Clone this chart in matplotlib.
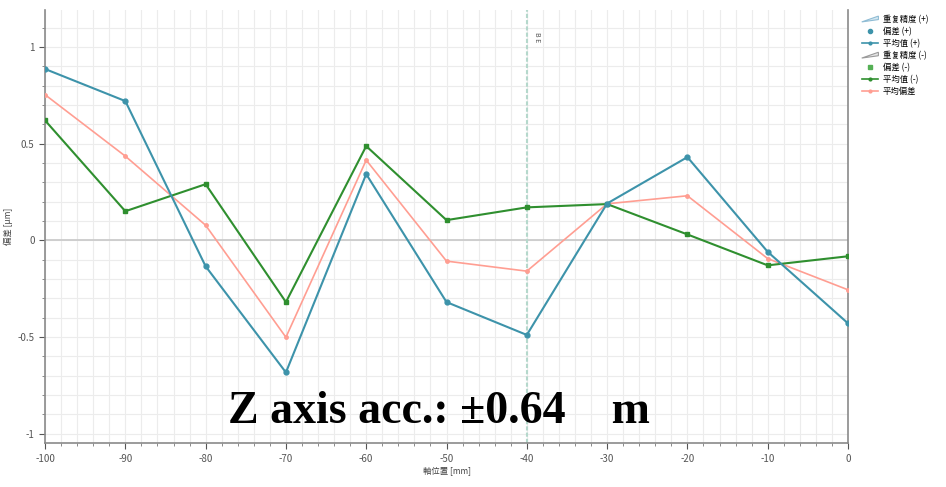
import matplotlib.pyplot as plt
from matplotlib.lines import Line2D
from matplotlib.patches import Polygon
from matplotlib.legend_handler import HandlerPatch
from matplotlib.ticker import MultipleLocator

plt.rcParams['font.family'] = ['Noto Sans CJK JP', 'DejaVu Sans']
plt.rcParams['axes.unicode_minus'] = False

# data
positions = [-100, -90, -80, -70, -60, -50, -40, -30, -20, -10, 0]
dev_plus = [0.886, 0.72, -0.135, -0.684, 0.342, -0.32, -0.49, 0.19, 0.43, -0.06, -0.43]
dev_minus = [0.62, 0.15, 0.29, -0.32, 0.487, 0.104, 0.17, 0.187, 0.03, -0.13, -0.083]
mean_dev = [(a + b) / 2 for a, b in zip(dev_plus, dev_minus)]
xticks = [-100, -90, -80, -70, -60, -50, -40, -30, -20, -10, 0]
yticks = [-1, -0.5, 0, 0.5, 1]
ytick_labels = ['-1', '-0.5', '0', '0.5', '1']
legend_labels = ['重复精度 (+)', '偏差 (+)', '平均值 (+)', '重复精度 (-)', '偏差 (-)', '平均值 (-)', '平均偏差']

c_plus = '#3d93aa'
c_minus = '#2f8f2f'
c_mean = '#ff9e92'

fig = plt.figure(figsize=(9.46, 4.87), dpi=100)
ax = fig.add_axes([0.0476, 0.090, 0.8488, 0.889])

ax.plot(positions, mean_dev, color=c_mean, lw=1.2, marker='o', ms=2.5, zorder=3)
ax.plot(positions, dev_minus, color=c_minus, lw=1.5, marker='s', ms=3.5, zorder=4)
ax.plot(positions, dev_plus, color=c_plus, lw=1.5, marker='o', ms=3.5, zorder=5)

ax.set_xlim(-100, 0)
ax.set_ylim(-1.05, 1.19)
ax.set_xticks(xticks)
ax.set_yticks(yticks)
ax.set_yticklabels(ytick_labels)
ax.xaxis.set_minor_locator(MultipleLocator(2))
ax.yaxis.set_minor_locator(MultipleLocator(0.1))
ax.grid(which='both', color='#ececec', lw=0.8)
ax.set_axisbelow(True)
ax.axhline(0, color='#c8c8c8', lw=1.2, zorder=1)
ax.axvline(-40, color='#b5d8cc', lw=1.5, ls=(0, (2, 1)), zorder=2)
ax.text(-38.7, 1.05, 'B E', rotation=-90, fontsize=5, color='#555555',
        ha='center', va='center')

ax.tick_params(which='major', labelsize=7, colors='#555555', length=4, direction='out')
ax.tick_params(which='minor', colors='#777777', length=2.5, direction='out')
for s in ['left', 'bottom', 'right']:
    ax.spines[s].set_color('#8a8a8a')
    ax.spines[s].set_linewidth(1.2)
ax.spines['top'].set_visible(False)

ax.set_xlabel('軸位置 [mm]', fontsize=6, color='#444444', labelpad=2)
ax.set_ylabel('偏差 [μm]', fontsize=6, color='#444444')
ax.yaxis.set_label_coords(-0.04, 0.5)

ax.text(-51, -0.89, 'Z axis acc.: ±0.64    m', fontsize=33, fontweight='bold',
        family='Liberation Serif', ha='center', va='center', zorder=6)


# legend (repeatability shown as wedge icons)
class HandlerWedge(HandlerPatch):
    def create_artists(self, legend, orig_handle, xdescent, ydescent, width, height, fontsize, trans):
        p = Polygon([[0, 0], [width, height], [width, height * 0.4], [0, 0]],
                    closed=True, facecolor=orig_handle.get_facecolor(),
                    edgecolor=orig_handle.get_edgecolor(), lw=0.8, transform=trans)
        return [p]


w_plus = Polygon([[0, 0]], facecolor='#d6e8f2', edgecolor='#8fbcd4')
w_minus = Polygon([[0, 0]], facecolor='#e6e6e6', edgecolor='#9a9a9a')
handles = [
    w_plus,
    Line2D([], [], ls='none', marker='o', ms=3, color=c_plus),
    Line2D([], [], color=c_plus, lw=1.2, marker='o', ms=2),
    w_minus,
    Line2D([], [], ls='none', marker='s', ms=3, color='#55b055'),
    Line2D([], [], color=c_minus, lw=1.2, marker='o', ms=2),
    Line2D([], [], color=c_mean, lw=1.2, marker='o', ms=2),
]
fig.legend(handles, legend_labels, loc='upper left', bbox_to_anchor=(0.903, 0.985),
           frameon=False, fontsize=6, handlelength=2, handletextpad=0.5,
           labelspacing=0.35, handler_map={Polygon: HandlerWedge()})

fig.savefig('out.png', dpi=100)
